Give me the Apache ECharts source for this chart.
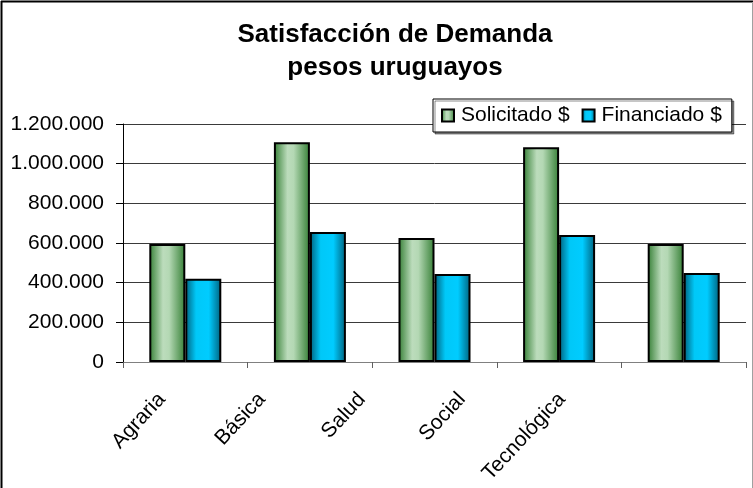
<!DOCTYPE html>
<html>
<head>
<meta charset="utf-8">
<script src="https://cdn.jsdelivr.net/npm/echarts@6/dist/echarts.min.js"></script>
<style>
html,body{margin:0;padding:0;background:#fff;}
#c{width:753px;height:488px;}
</style>
</head>
<body>
<div id="c"></div>
<script>
const categories = ['Agraria', 'Básica', 'Salud', 'Social', 'Tecnológica'];
const solicitado = [595000, 1108000, 625000, 1083000, 595000];
const financiado = [420000, 655000, 444000, 640000, 449000];
const seriesNames = ['Solicitado $', 'Financiado $'];
const yTicks = { min: 0, max: 1200000, interval: 200000 };
const titleText = 'Satisfacción de Demanda\npesos uruguayos';

const FONT = 'Arial, "Liberation Sans", sans-serif';
function fmt(v) { return String(v).replace(/\B(?=(\d{3})+(?!\d))/g, '.'); }

const greenGrad = new echarts.graphic.LinearGradient(0, 0, 1, 0, [
  { offset: 0, color: '#357f35' },
  { offset: 0.38, color: '#bcdcbc' },
  { offset: 0.55, color: '#b4d8b4' },
  { offset: 1, color: '#357f35' }
]);
const blueGrad = new echarts.graphic.LinearGradient(0, 0, 1, 0, [
  { offset: 0, color: '#00607c' },
  { offset: 0.3, color: '#00c8f8' },
  { offset: 0.65, color: '#00ccff' },
  { offset: 1, color: '#00607c' }
]);

const chart = echarts.init(document.getElementById('c'), null, { renderer: 'canvas' });
chart.setOption({
  animation: false,
  backgroundColor: '#fff',
  title: {
    text: titleText,
    left: 390,
    top: 13,
    textAlign: 'center',
    textStyle: { fontFamily: FONT, fontSize: 26, fontWeight: 'bold', color: '#000', lineHeight: 33 }
  },
  legend: {
    data: seriesNames,
    left: 433,
    top: 99,
    orient: 'horizontal',
    icon: 'rect',
    itemWidth: 12,
    itemHeight: 12,
    itemGap: 12,
    padding: [6, 10, 6, 8],
    backgroundColor: '#fff',
    borderColor: '#000',
    borderWidth: 1,
    shadowColor: 'rgba(0,0,0,0.45)',
    shadowOffsetX: 2,
    shadowOffsetY: 2,
    shadowBlur: 0,
    textStyle: { fontFamily: FONT, fontSize: 21, color: '#000', padding: [0, 0, 0, 2] }
  },
  grid: [
    { left: 123, right: 7, top: 124, bottom: 126 },
    { left: 112, right: 141, top: 124, bottom: 126 }
  ],
  xAxis: [
    {
      type: 'category',
      gridIndex: 0,
      data: categories,
      axisLine: { lineStyle: { color: '#808080', width: 1 } },
      axisTick: { show: true, length: 6, lineStyle: { color: '#606060' } },
      axisLabel: { show: false },
      splitLine: { show: false }
    },
    {
      type: 'category',
      gridIndex: 1,
      data: categories,
      axisLine: { show: false },
      axisTick: { show: false },
      axisLabel: { rotate: 47, margin: 34, fontFamily: FONT, fontSize: 21, color: '#000', interval: 0 },
      splitLine: { show: false }
    }
  ],
  yAxis: [
    {
      type: 'value',
      gridIndex: 0,
      min: yTicks.min,
      max: yTicks.max,
      interval: yTicks.interval,
      axisLine: { show: true, lineStyle: { color: '#000', width: 1 } },
      axisTick: { show: true, length: 7, lineStyle: { color: '#000' } },
      axisLabel: { margin: 19, fontFamily: FONT, fontSize: 21, color: '#000', formatter: fmt },
      splitLine: { show: true, lineStyle: { color: '#3a3a3a', width: 1 } }
    },
    {
      type: 'value',
      gridIndex: 1,
      min: yTicks.min,
      max: yTicks.max,
      show: false
    }
  ],
  series: [
    {
      name: seriesNames[0],
      type: 'bar',
      xAxisIndex: 0,
      yAxisIndex: 0,
      data: solicitado,
      barWidth: 36,
      barGap: '0%',
      itemStyle: { color: greenGrad, borderColor: '#000', borderWidth: 2 }
    },
    {
      name: seriesNames[1],
      type: 'bar',
      xAxisIndex: 0,
      yAxisIndex: 0,
      data: financiado,
      barWidth: 36,
      barGap: '0%',
      itemStyle: { color: blueGrad, borderColor: '#000', borderWidth: 2 }
    }
  ],
  graphic: [
    { type: 'line', shape: { x1: 1, y1: 1.5, x2: 753, y2: 1.5 }, style: { stroke: '#000', lineWidth: 2 }, z: 100 },
    { type: 'line', shape: { x1: 1.5, y1: 1, x2: 1.5, y2: 488 }, style: { stroke: '#000', lineWidth: 2 }, z: 100 },
    { type: 'line', shape: { x1: 752.5, y1: 2, x2: 752.5, y2: 488 }, style: { stroke: '#a0a0a0', lineWidth: 1 }, z: 100 }
  ]
});
</script>
</body>
</html>
